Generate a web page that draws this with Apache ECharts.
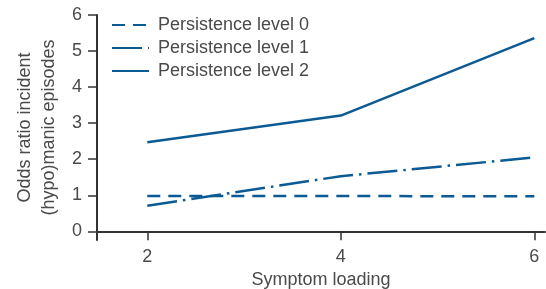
<!DOCTYPE html>
<html>
<head>
<meta charset="utf-8">
<script src="https://cdn.jsdelivr.net/npm/echarts@6/dist/echarts.min.js"></script>
<style>
  html, body { margin: 0; padding: 0; background: #fff; }
  #chart { width: 546px; height: 289px; }
</style>
</head>
<body>
<div id="chart"></div>
<script>
// symptom loading values on the x axis
const loading = [2, 4, 6];
const level0 = [0.98, 0.98, 0.97];
const level1 = [0.71, 1.53, 2.05];
const level2 = [2.47, 3.21, 5.36];
const seriesNames = ['Persistence level 0', 'Persistence level 1', 'Persistence level 2'];
const xTicks = [2, 4, 6];
const yTicks = [0, 1, 2, 3, 4, 5, 6];

const blue = '#0b5a93';
const textColor = '#4a4a4a';
const axisColor = '#333';

function pairs(vals) {
  return loading.map((x, i) => [x, vals[i]]);
}

const chart = echarts.init(document.getElementById('chart'));
chart.setOption({
  animation: false,
  textStyle: { fontFamily: 'Liberation Sans, Arial, sans-serif' },
  grid: { left: 97, right: 1, top: 15, bottom: 49, outerBoundsMode: 'none', containLabel: false },
  legend: {
    left: 106, top: 11, orient: 'vertical',
    itemWidth: 37, itemHeight: 10, itemGap: 5,
    itemStyle: { opacity: 0 },
    textStyle: { color: textColor, fontSize: 18, padding: [0, 0, 0, 4] },
    data: seriesNames
  },
  xAxis: {
    type: 'value', min: 1.48, max: 6.11,
    name: 'Symptom loading', nameLocation: 'middle', nameGap: 28,
    nameTextStyle: { color: textColor, fontSize: 18 },
    axisLine: { onZero: true, lineStyle: { color: axisColor, width: 2 } },
    axisTick: { length: 9, customValues: xTicks, lineStyle: { color: axisColor, width: 1.5 } },
    axisLabel: { customValues: xTicks, color: textColor, fontSize: 18, margin: 8 },
    splitLine: { show: false }
  },
  yAxis: {
    type: 'value', min: -0.24, max: 6,
    name: 'Odds ratio incident\n(hypo)manic episodes',
    nameLocation: 'middle', nameRotate: 90, nameGap: 36,
    nameTextStyle: { color: textColor, fontSize: 18, lineHeight: 24 },
    axisLine: { show: true, lineStyle: { color: axisColor, width: 2 } },
    axisTick: { length: 9, customValues: yTicks, lineStyle: { color: axisColor, width: 1.5 } },
    axisLabel: { customValues: yTicks, color: textColor, fontSize: 18, margin: 15 },
    splitLine: { show: false }
  },
  series: [
    { name: seriesNames[0], type: 'line', data: pairs(level0), symbol: 'none',
      lineStyle: { color: blue, width: 2.5, type: [13, 8] }, itemStyle: { color: blue } },
    { name: seriesNames[1], type: 'line', data: pairs(level1), symbol: 'none',
      lineStyle: { color: blue, width: 2.5, type: [30, 6, 2.5, 6] }, itemStyle: { color: blue } },
    { name: seriesNames[2], type: 'line', data: pairs(level2), symbol: 'none',
      lineStyle: { color: blue, width: 2.5 }, itemStyle: { color: blue } }
  ]
});
</script>
</body>
</html>
